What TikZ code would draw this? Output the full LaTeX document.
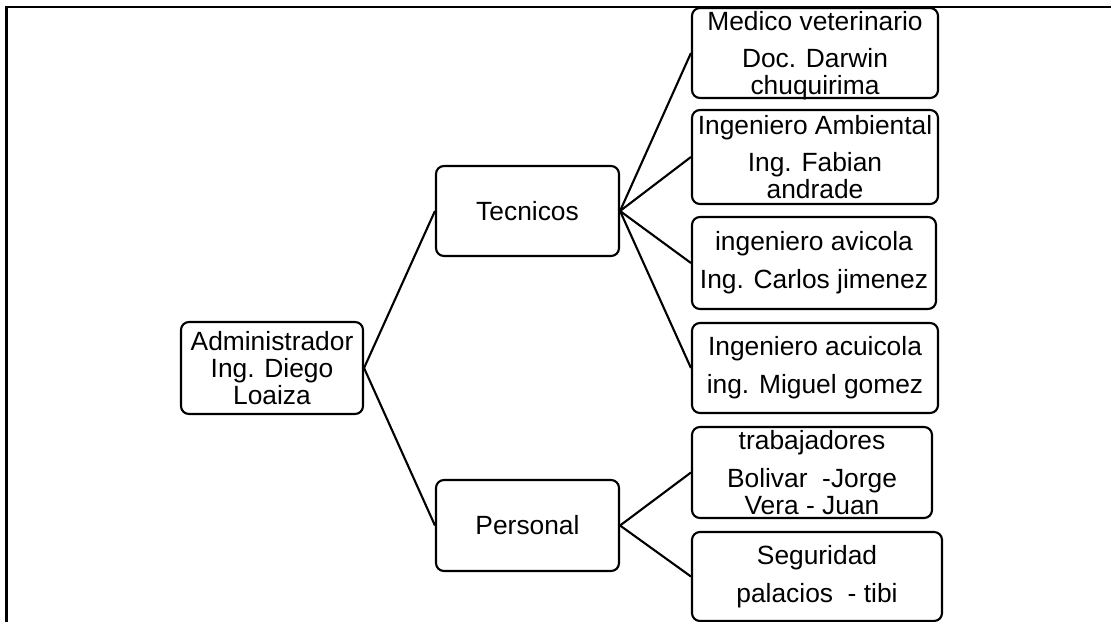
\documentclass[tikz,border=0pt]{standalone}
\usepackage{fontspec}
\setmainfont{Liberation Sans}
\usepackage{tikz}

\begin{document}
\begin{tikzpicture}
\tikzset{box/.style = {draw, line width=1.2pt, rounded corners=4.5pt, align=center,
  inner xsep=2pt, inner ysep=0pt, font=\fontsize{15}{15.4}\selectfont}}
\tikzset{tall/.style = {box, text depth=0pt}}
\tikzset{link/.style = {line width=1.2pt}}

\useasboundingbox (0,0) rectangle (22.22,-12.44);
\draw[line width=1.3pt] (0.13,-12.44) -- (0.13,-0.14) -- (22.22,-0.14);

%vertices
\node[box, minimum width=3.64cm, minimum height=1.84cm] (adm) at (5.44,-7.36) {Administrador\\Ing. Diego\\Loaiza};
\node[box, minimum width=3.66cm, minimum height=1.80cm] (tec) at (10.55,-4.22) {Tecnicos};
\node[box, minimum width=3.66cm, minimum height=1.82cm] (per) at (10.55,-10.51) {Personal};
\node[tall, minimum width=4.92cm, minimum height=1.80cm] (med) at (16.30,-1.06) {Medico veterinario\\[5.8pt]Doc. Darwin\\chuquirima};
\node[tall, minimum width=4.92cm, minimum height=1.88cm] (amb) at (16.30,-3.14) {Ingeniero Ambiental\\[5.8pt]Ing. Fabian\\andrade};
\node[box, minimum width=4.88cm, minimum height=1.84cm] (avi) at (16.28,-5.26) {ingeniero avicola\\[6.2pt]Ing. Carlos jimenez};
\node[box, minimum width=4.92cm, minimum height=1.80cm] (acu) at (16.30,-7.36) {Ingeniero acuicola\\[6.2pt]ing. Miguel gomez};
\node[tall, minimum width=4.80cm, minimum height=1.82cm] (tra) at (16.24,-9.45) {trabajadores\\[5.8pt]Bolivar~ -Jorge\\Vera - Juan};
\node[box, minimum width=5.00cm, minimum height=1.78cm] (seg) at (16.34,-11.53) {Seguridad\\[6.2pt]palacios~ - tibi};

%edges
\draw[link] (adm.east) edge (tec.west);
\draw[link] (adm.east) edge (per.west);
\draw[link] (tec.east) edge (med.west);
\draw[link] (tec.east) edge (amb.west);
\draw[link] (tec.east) edge (avi.west);
\draw[link] (tec.east) edge (acu.west);
\draw[link] (per.east) edge (tra.west);
\draw[link] (per.east) edge (seg.west);

\end{tikzpicture}
\end{document}
